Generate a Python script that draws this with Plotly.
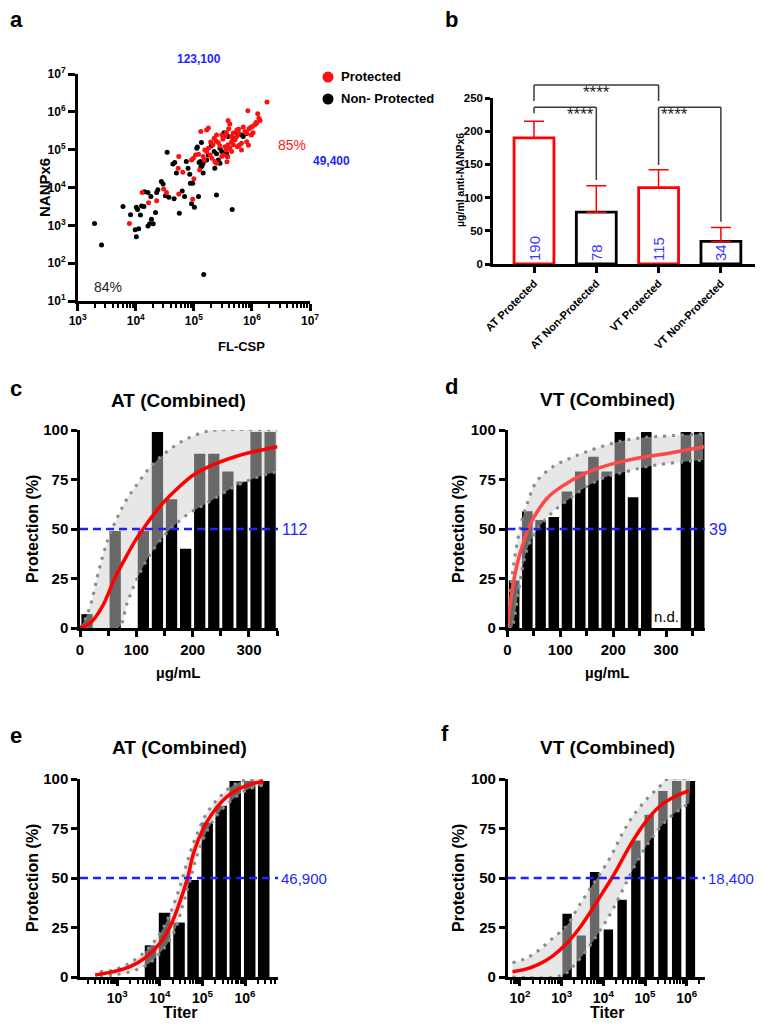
import numpy as np
import plotly.graph_objects as go

W, H = 763, 1031          # browser window
OFF = 8                   # default body margin of the page
WF, HF = W - 2 * OFF, H - 2 * OFF   # figure size so that the page fits the window exactly
FONT = "Arial, 'Liberation Sans', Helvetica, sans-serif"
BLUE = "#1f1fff"
LBLUE = "#3a3aff"
RED = "#ff0000"
GRAY_DOT = "#8a8a8a"
BAND = "rgba(208,208,208,0.5)"

# ---------------- Panel a : scatter (log10 exponents) ----------------
nonprot_fl_exp = [3.29, 3.41, 3.78, 3.91, 4.01, 4.03, 4.10, 4.14, 4.08, 3.99, 4.05, 4.01, 4.21, 4.24,
                  4.27, 4.30, 4.34, 4.15, 4.21, 4.26, 4.36, 4.38, 4.44, 4.47, 4.51, 4.57, 4.66, 4.75,
                  4.80, 4.84, 4.54, 4.64, 4.67, 4.70, 4.87, 4.90, 4.94, 4.98, 5.01, 5.06, 5.13, 5.09,
                  5.14, 5.16, 5.17, 5.52, 5.59, 5.82, 5.85, 5.05, 5.45, 5.48, 5.35, 5.39, 5.25, 5.22,
                  5.11, 5.16, 5.42, 5.45, 5.56, 5.58, 5.36, 5.12, 4.93, 5.08, 5.39, 5.91, 5.66, 5.68,
                  5.30, 5.75, 4.96]
nonprot_nanp_exp = [3.05, 2.48, 3.50, 3.28, 3.48, 3.42, 3.51, 3.50, 3.27, 2.88, 2.91, 2.70, 2.98, 3.04,
                    3.16, 3.04, 3.34, 3.89, 3.87, 3.76, 3.87, 3.94, 4.16, 4.09, 3.78, 3.74, 3.70, 3.32,
                    3.91, 3.76, 4.93, 4.62, 4.66, 4.38, 4.69, 4.51, 4.11, 4.11, 3.48, 5.07, 5.19, 4.66,
                    4.57, 4.38, 1.70, 5.45, 5.35, 5.39, 5.35, 5.04, 5.04, 4.95, 4.95, 4.89, 4.86, 4.73,
                    4.69, 4.64, 4.73, 4.64, 4.91, 4.82, 4.51, 4.54, 4.35, 3.76, 3.80, 5.43, 3.42, 5.30,
                    5.10, 5.45, 3.57]
prot_fl_exp = [3.89, 4.11, 4.22, 4.36, 4.48, 4.53, 4.74, 4.98, 4.74, 4.81, 4.96, 4.99, 5.00, 5.08,
               5.12, 5.10, 4.73, 6.26, 5.93, 6.10, 6.12, 6.14, 6.07, 6.01, 6.05, 5.95, 5.98, 5.88,
               5.91, 5.77, 5.59, 5.62, 5.74, 5.77, 5.74, 5.68, 5.65, 5.54, 5.56, 5.48, 5.50, 5.39,
               5.38, 5.22, 5.25, 5.29, 5.33, 5.42, 5.45, 5.54, 5.56, 5.59, 5.65, 5.68, 5.71, 5.62,
               5.65, 5.75, 5.82, 5.91, 5.19, 5.22, 5.25, 5.28, 5.31, 5.16, 5.18, 5.36, 5.39, 5.48,
               5.51, 5.03, 5.94, 6.08, 5.99, 5.82, 5.58, 5.57, 5.78, 5.35, 5.60, 5.85, 6.02]
prot_nanp_exp = [3.05, 3.87, 3.60, 3.65, 3.96, 3.87, 3.83, 3.69, 4.82, 4.40, 4.73, 4.77, 4.23, 4.88,
                 5.48, 4.46, 4.51, 6.26, 6.03, 5.95, 5.83, 5.77, 5.72, 5.61, 5.66, 5.55, 5.59, 5.48,
                 5.44, 5.54, 5.77, 5.68, 5.52, 5.44, 5.35, 5.44, 5.35, 5.36, 5.45, 5.39, 5.28, 5.39,
                 5.23, 5.52, 5.57, 5.20, 5.13, 5.19, 5.10, 5.08, 4.99, 5.13, 5.21, 5.13, 5.26, 5.04,
                 4.95, 5.08, 5.17, 5.21, 4.99, 4.95, 5.04, 4.86, 4.77, 4.82, 4.73, 4.69, 4.64, 4.82,
                 4.86, 4.86, 5.12, 5.70, 5.39, 4.99, 4.81, 4.68, 5.12, 5.30, 5.55, 5.60, 5.45]
fl_threshold = 123100
nanp_threshold = 49400
a_xticks = [1e3, 1e4, 1e5, 1e6, 1e7]
a_xtext = ["10<sup>3</sup>", "10<sup>4</sup>", "10<sup>5</sup>", "10<sup>6</sup>", "10<sup>7</sup>"]
a_yticks = [1e1, 1e2, 1e3, 1e4, 1e5, 1e6, 1e7]
a_ytext = ["10<sup>1</sup>", "10<sup>2</sup>", "10<sup>3</sup>", "10<sup>4</sup>", "10<sup>5</sup>",
           "10<sup>6</sup>", "10<sup>7</sup>"]

# ---------------- Panel b : bars ----------------
b_groups = ["AT Protected", "AT Non-Protected", "VT Protected", "VT Non-Protected"]
b_means = [190, 78, 115, 34]
b_err_up = [25, 40, 27, 21]
b_protected = [True, False, True, False]
b_pairs = [(0, 2), (0, 1), (2, 3)]
b_sig = ["****", "****", "****"]

# ---------------- Panel c : AT protection vs µg/mL ----------------
c_bar_conc = [12.5, 62.5, 112.5, 137.5, 162.5, 187.5, 212.5, 237.5, 262.5, 287.5, 312.5, 337.5]
c_bar_prot = [7, 49, 49, 99, 65, 40, 88, 88, 79, 74, 99, 99]
c_fit_conc = [0, 20, 40, 60, 80, 100, 112, 130, 150, 175, 200, 225, 250, 275, 300, 325, 350]
c_fit_prot = [0, 3, 11, 24, 35, 45, 50, 57, 64, 71, 77, 81, 84, 86.5, 88.5, 90, 91.5]
c_hi_conc = [0, 10, 20, 30, 40, 50, 60, 70, 85, 100, 124, 154, 189, 225, 243, 350]
c_hi_prot = [0, 5, 13, 25, 36, 45, 52, 58, 66, 72, 81, 89, 95.5, 99.3, 100, 100]
c_lo_conc = [0, 68, 83, 100, 124, 154, 189, 225, 272, 308, 350]
c_lo_prot = [0, 0, 12, 24, 37, 48, 57, 63, 71, 75.5, 79]
c_ec50 = 112

# ---------------- Panel d : VT protection vs µg/mL ----------------
d_bar_conc = [12.5, 37.5, 62.5, 87.5, 112.5, 137.5, 162.5, 187.5, 212.5, 237.5, 262.5, 337.5, 362.5]
d_bar_prot = [24, 59, 54.5, 56, 69, 79, 86.5, 79, 99, 66, 99, 99, 99]
d_nd_conc = 300
d_fit_conc = [0, 5, 10, 20, 30, 39, 50, 75, 100, 150, 200, 250, 300, 372]
d_fit_prot = [0, 12, 21, 34, 43, 50, 56, 65.5, 71, 78.5, 83, 86, 88, 91.5]
d_hi_conc = [0, 3, 8, 15, 25, 30, 37.5, 55, 86, 118, 149, 187, 225, 263, 301, 370]
d_hi_prot = [0, 12, 25, 38, 52, 57, 63, 74, 81.5, 85.7, 89, 92.4, 95, 96.3, 97, 98]
d_lo_conc = [0, 7.6, 10.7, 20, 30, 39, 55, 86, 118, 149, 187, 225, 263, 301, 370]
d_lo_prot = [0, 0, 2, 17, 32.5, 41, 49.4, 58.7, 65.4, 71.3, 76.4, 79, 81.5, 83, 84.8]
d_ec50 = 39

# ---------------- Panel e : AT protection vs titer ----------------
e_bar_titer = [6030, 12900, 28200, 60300, 129000, 275000, 589000, 1290000, 2750000]
e_bar_prot = [16, 32.5, 27.5, 49, 78, 86.5, 99, 99, 99]
e_fit_titer = [302, 813, 2000, 4900, 10000, 17400, 26900, 44700, 61700, 105000, 182000, 372000,
               759000, 1580000, 2690000]
e_fit_prot = [1.0, 2.7, 5.2, 10.3, 17, 25.4, 35.5, 50, 62.5, 75, 83.5, 91, 95.3, 97.8, 98.7]
e_hi_titer = [389, 813, 2000, 4900, 10000, 17400, 29500, 42700, 67600, 126000, 257000, 537000,
              1100000, 2690000]
e_hi_prot = [2.7, 3.5, 7.2, 13.6, 22, 32, 45.6, 57.4, 70, 82.7, 91, 97, 99.5, 100]
e_lo_titer = [389, 813, 2000, 4900, 10000, 20900, 35500, 51300, 79400, 138000, 257000, 537000,
              1100000, 2690000]
e_lo_prot = [0.5, 1, 2.7, 6, 12, 22, 37, 49, 63, 75, 83.5, 90, 94.4, 97]
e_ec50_label = "46,900"

# ---------------- Panel f : VT protection vs titer ----------------
f_bar_titer = [1350, 2950, 6170, 13200, 28200, 60300, 126000, 269000, 575000, 1230000]
f_bar_prot = [32, 21, 53, 24, 39, 69, 82, 94, 99, 99]
f_fit_titer = [66, 138, 288, 603, 1260, 2630, 5500, 9550, 16600, 28800, 50100, 105000, 219000,
               457000, 1150000]
f_fit_prot = [2.7, 4, 6.5, 10.5, 16.5, 24.5, 34.5, 42.5, 50.5, 59.5, 68.5, 78.5, 86, 90.5, 94.1]
f_hi_titer = [66, 138, 288, 603, 1260, 2400, 4570, 9550, 16600, 28800, 50100, 105000, 219000,
              347000, 1230000]
f_hi_prot = [7.2, 9.4, 13.6, 19.5, 25.4, 34.7, 44, 54, 62.5, 72.6, 81, 89.4, 96, 100, 100]
f_lo_titer = [66, 1050, 2190, 4570, 9550, 16600, 28800, 50100, 105000, 219000, 457000, 1150000]
f_lo_prot = [0, 1, 6.9, 15.3, 25.4, 33.8, 43.8, 54, 65.8, 75, 81.8, 87.7]
f_ec50_label = "18,400"

prot_ticks = [0, 25, 50, 75, 100]


# ---------------- helpers (window pixel -> paper fraction) ----------------
def fx(p):
    return min(max((p - OFF) / WF, 0.0), 1.0)


def fy(p):
    return min(max(1 - (p - OFF) / HF, 0.0), 1.0)


def xdom(p0, p1):
    return [fx(p0), fx(p1)]


def ydom(ptop, pbot):
    return [fy(pbot), fy(ptop)]


def tf(size, bold=True, color="black"):
    return dict(family=FONT, size=size, color=color, weight="bold" if bold else "normal")


def axis(**kw):
    base = dict(showline=True, linecolor="black", linewidth=2.5, ticks="outside", ticklen=6,
                tickwidth=2.5, tickcolor="black", showgrid=False, zeroline=False,
                tickfont=tf(15), fixedrange=True, automargin=False)
    base.update(kw)
    return base


def log_minor(lo_exp, hi_exp):
    vals = []
    for e in range(int(np.floor(lo_exp)), int(np.ceil(hi_exp)) + 1):
        for k in range(2, 10):
            v = k * 10.0 ** e
            if 10 ** lo_exp <= v <= 10 ** hi_exp:
                vals.append(v)
    return vals


fig = go.Figure()
annotations = []
shapes = []


def text(px, py, s, size, bold=True, color="black", angle=0, xanchor="center", yanchor="middle"):
    annotations.append(dict(x=fx(px), y=fy(py), xref="paper", yref="paper", text=s,
                            showarrow=False, textangle=angle, xanchor=xanchor, yanchor=yanchor,
                            font=tf(size, bold, color)))


# ================= Panel a =================
fig.add_trace(go.Scatter(x=10 ** np.array(nonprot_fl_exp), y=10 ** np.array(nonprot_nanp_exp),
                         mode="markers", marker=dict(color="black", size=5), xaxis="x", yaxis="y",
                         showlegend=False))
fig.add_trace(go.Scatter(x=10 ** np.array(prot_fl_exp), y=10 ** np.array(prot_nanp_exp),
                         mode="markers", marker=dict(color="#ff1010", size=5), xaxis="x", yaxis="y",
                         showlegend=False))
shapes.append(dict(type="line", xref="x", yref="y domain", x0=np.log10(fl_threshold),
                   x1=np.log10(fl_threshold), y0=0, y1=1, layer="below",
                   line=dict(color=BLUE, width=2, dash="2px,3px")))
shapes.append(dict(type="line", xref="x domain", yref="y", x0=0, x1=1,
                   y0=np.log10(nanp_threshold), y1=np.log10(nanp_threshold), layer="below",
                   line=dict(color=BLUE, width=2, dash="2px,3px")))
annotations.append(dict(x=np.log10(fl_threshold), xref="x", y=1, yref="y domain", yanchor="bottom",
                        yshift=6, text=f"{fl_threshold:,}", showarrow=False, font=tf(12, True, BLUE)))
annotations.append(dict(x=1, xref="x domain", xanchor="left", xshift=1, y=np.log10(nanp_threshold),
                        yref="y", text=f"{nanp_threshold:,}", showarrow=False, font=tf(12, True, BLUE)))
text(108, 287, "84%", 14, False, "#222222")
text(292, 145, "85%", 14, False, "#ff2020")
# legend
for py, col, lab in [(77, "#ff1010", "Protected"), (99, "black", "Non- Protected")]:
    shapes.append(dict(type="circle", xref="paper", yref="paper", xsizemode="pixel",
                       ysizemode="pixel", xanchor=fx(328), yanchor=fy(py), x0=-5.5, x1=5.5,
                       y0=-5.5, y1=5.5, fillcolor=col, line=dict(width=0)))
    text(339, py, lab, 13, True, "black", xanchor="left")
text(241, 347, "FL-CSP", 13)
text(44, 188, "NANPx6", 15, angle=-90)
text(16, 19, "a", 22)

# ================= Panel b =================
b_x = list(range(len(b_groups)))
fig.add_trace(go.Bar(x=b_x, y=b_means, width=0.64, xaxis="x2", yaxis="y2", showlegend=False,
                     marker=dict(color="white",
                                 line=dict(color=[RED if p else "black" for p in b_protected],
                                           width=2.8)),
                     error_y=dict(type="data", symmetric=False, array=b_err_up,
                                  arrayminus=[0] * len(b_means), color=RED, thickness=1.5,
                                  width=10),
                     text=[str(v) for v in b_means], textposition="inside",
                     insidetextanchor="start", textangle=-90, constraintext="none",
                     textfont=dict(family=FONT, size=15, color=LBLUE)))
# category axis: first category at x=534 px, spacing 62.3 px, axis from 493 px to figure edge
b_left_px, b_right_px, b_c0_px, b_step_px = 493, W - OFF, 534, 62.3
b_xr = [(b_left_px - b_c0_px) / b_step_px, (b_right_px - b_c0_px) / b_step_px]
b_yr = [0, 250]


def bxd(i):
    return (i - b_xr[0]) / (b_xr[1] - b_xr[0])


def byd(v):
    return (v - b_yr[0]) / (b_yr[1] - b_yr[0])


bracket_geom = [(269.5, 245.5, 245.5, 276), (236, 227, 126.5, 243), (236, 149, 63.7, 243)]
for (i0, i1), lab, (ytop, yl0, yl1, ytxt) in zip(b_pairs, b_sig, bracket_geom):
    for (xa, ya, xb, yb) in [(i0, yl0, i0, ytop), (i0, ytop, i1, ytop), (i1, ytop, i1, yl1)]:
        shapes.append(dict(type="line", xref="x2 domain", yref="y2 domain", x0=bxd(xa), x1=bxd(xb),
                           y0=byd(ya), y1=byd(yb), line=dict(color="#3a3a3a", width=1.5)))
    annotations.append(dict(x=bxd((i0 + i1) / 2), xref="x2 domain", y=byd(ytxt), yref="y2 domain",
                            text=lab, showarrow=False, font=tf(17, False, "#222222")))
text(460, 180, "µg/ml anti-NANPx6", 10.5, angle=-90)
text(452, 19, "b", 22)


# ================= Panels c, d =================
def conc_panel(xa, ya, bx, by, fxv, fyv, hx, hy, lx, ly, ec50, curve_col):
    fig.add_trace(go.Bar(x=bx, y=by, width=20, marker=dict(color="black", line=dict(width=0)),
                         xaxis=xa, yaxis=ya, showlegend=False))
    fig.add_trace(go.Scatter(x=lx, y=ly, mode="lines", line=dict(color=GRAY_DOT, width=3,
                                                                dash="3px,6px", shape="spline"),
                             xaxis=xa, yaxis=ya, showlegend=False))
    fig.add_trace(go.Scatter(x=hx, y=hy, mode="lines", fill="tonexty", fillcolor=BAND,
                             line=dict(color=GRAY_DOT, width=3, dash="3px,6px", shape="spline"),
                             xaxis=xa, yaxis=ya, showlegend=False))
    fig.add_trace(go.Scatter(x=fxv, y=fyv, mode="lines", line=dict(color=curve_col, width=3.5,
                                                                  shape="spline"),
                             xaxis=xa, yaxis=ya, showlegend=False))
    shapes.append(dict(type="line", xref=xa + " domain", yref=ya, x0=0, x1=1, y0=50, y1=50,
                       line=dict(color=BLUE, width=2.5, dash="8px,5px")))
    annotations.append(dict(x=1, xref=xa + " domain", xanchor="left", xshift=2, y=50, yref=ya,
                            text=str(ec50), showarrow=False, font=tf(16, False, BLUE)))


conc_panel("x3", "y3", c_bar_conc, c_bar_prot, c_fit_conc, c_fit_prot, c_hi_conc, c_hi_prot,
           c_lo_conc, c_lo_prot, c_ec50, "#ff0000")
conc_panel("x4", "y4", d_bar_conc, d_bar_prot, d_fit_conc, d_fit_prot, d_hi_conc, d_hi_prot,
           d_lo_conc, d_lo_prot, d_ec50, "#ff4848")
annotations.append(dict(x=d_nd_conc, xref="x4", y=0, yref="y4", yanchor="bottom", yshift=1,
                        text="n.d.", showarrow=False, font=tf(15, False, "black")))


# ================= Panels e, f =================
def titer_panel(xbar, xlog, ya, bt, bp, bw, ft, fp, ht, hp, lt, lp, lab):
    fig.add_trace(go.Bar(x=np.log10(bt), y=bp, width=bw,
                         marker=dict(color="black", line=dict(width=0)),
                         xaxis=xbar, yaxis=ya, showlegend=False))
    fig.add_trace(go.Scatter(x=lt, y=lp, mode="lines", line=dict(color=GRAY_DOT, width=3,
                                                                dash="3px,6px", shape="spline"),
                             xaxis=xlog, yaxis=ya, showlegend=False))
    fig.add_trace(go.Scatter(x=ht, y=hp, mode="lines", fill="tonexty", fillcolor=BAND,
                             line=dict(color=GRAY_DOT, width=3, dash="3px,6px", shape="spline"),
                             xaxis=xlog, yaxis=ya, showlegend=False))
    fig.add_trace(go.Scatter(x=ft, y=fp, mode="lines", line=dict(color="#ff0000", width=3.5,
                                                                shape="spline"),
                             xaxis=xlog, yaxis=ya, showlegend=False))
    shapes.append(dict(type="line", xref=xbar + " domain", yref=ya, x0=0, x1=1, y0=50, y1=50,
                       line=dict(color=BLUE, width=2.5, dash="8px,5px")))
    annotations.append(dict(x=1, xref=xbar + " domain", xanchor="left", xshift=1, y=50, yref=ya,
                            text=lab, showarrow=False, font=tf(15, False, BLUE)))


titer_panel("x5", "x7", "y5", e_bar_titer, e_bar_prot, 0.27, e_fit_titer, e_fit_prot,
            e_hi_titer, e_hi_prot, e_lo_titer, e_lo_prot, e_ec50_label)
titer_panel("x6", "x8", "y6", f_bar_titer, f_bar_prot, 0.225, f_fit_titer, f_fit_prot,
            f_hi_titer, f_hi_prot, f_lo_titer, f_lo_prot, f_ec50_label)

# titles / labels c-f
text(178, 400, "AT (Combined)", 19)
text(607, 399, "VT (Combined)", 19)
text(179, 747, "AT (Combined)", 19)
text(607, 747, "VT (Combined)", 19)
for px, py in [(32, 529), (458, 529), (32, 878), (458, 878)]:
    text(px, py, "Protection (%)", 16, angle=-90)
text(178, 672, "µg/mL", 15)
text(607, 672, "µg/mL", 15)
text(180, 1012, "Titer", 16)
text(607, 1012, "Titer", 16)
text(16, 388, "c", 22)
text(452, 387, "d", 22)
text(16, 735, "e", 22)
text(445, 733, "f", 22)

e_rng = [2.124, 6.775]
f_rng = [1.705, 6.44]
e_major = [1e3, 1e4, 1e5, 1e6]
f_major = [1e2, 1e3, 1e4, 1e5, 1e6]

fig.update_layout(
    width=WF, height=HF, margin=dict(l=0, r=0, t=0, b=0, autoexpand=False),
    paper_bgcolor="white", plot_bgcolor="rgba(0,0,0,0)", showlegend=False,
    font=dict(family=FONT),
    xaxis=axis(type="log", domain=xdom(77.7, 310), range=[3, 7], anchor="y",
               tickvals=a_xticks, ticktext=a_xtext, tickfont=tf(12), ticklen=7,
               minor=dict(tickvals=log_minor(3, 7), ticks="outside", ticklen=4, tickwidth=2,
                          tickcolor="black")),
    yaxis=axis(type="log", domain=ydom(74, 301), range=[1, 7], anchor="x",
               tickvals=a_yticks, ticktext=a_ytext, tickfont=tf(12), ticklen=7),
    xaxis2=axis(domain=xdom(b_left_px, b_right_px), range=b_xr, anchor="y2", tickvals=b_x,
                ticktext=b_groups, tickangle=-45, tickfont=tf(11)),
    yaxis2=axis(domain=ydom(98, 264), range=b_yr, anchor="x2", tickvals=[0, 50, 100, 150, 200, 250],
                tickfont=tf(11.5), ticklen=5),
    xaxis3=axis(domain=xdom(80, 278), range=[0, 351.5], anchor="y3", tickvals=[0, 100, 200, 300],
                minor=dict(tick0=0, dtick=50, ticks="outside", ticklen=5, tickwidth=2.5,
                           tickcolor="black")),
    yaxis3=axis(domain=ydom(430, 628), range=[0, 100], anchor="x3", tickvals=prot_ticks),
    xaxis4=axis(domain=xdom(507.5, 705), range=[0, 373.5], anchor="y4", tickvals=[0, 100, 200, 300],
                minor=dict(tick0=0, dtick=50, ticks="outside", ticklen=5, tickwidth=2.5,
                           tickcolor="black")),
    yaxis4=axis(domain=ydom(430, 628), range=[0, 100], anchor="x4", tickvals=prot_ticks),
    xaxis5=axis(domain=xdom(80, 278), range=e_rng, anchor="y5", visible=False),
    yaxis5=axis(domain=ydom(779, 977), range=[0, 100], anchor="x5", tickvals=prot_ticks),
    xaxis7=axis(type="log", range=e_rng, overlaying="x5", anchor="y5", tickvals=e_major,
                ticktext=["10<sup>%d</sup>" % int(np.log10(v)) for v in e_major], tickfont=tf(14),
                minor=dict(tickvals=log_minor(*e_rng), ticks="outside", ticklen=4, tickwidth=2,
                           tickcolor="black")),
    xaxis6=axis(domain=xdom(507.7, 705), range=f_rng, anchor="y6", visible=False),
    yaxis6=axis(domain=ydom(779, 977), range=[0, 100], anchor="x6", tickvals=prot_ticks),
    xaxis8=axis(type="log", range=f_rng, overlaying="x6", anchor="y6", tickvals=f_major,
                ticktext=["10<sup>%d</sup>" % int(np.log10(v)) for v in f_major], tickfont=tf(14),
                minor=dict(tickvals=log_minor(*f_rng), ticks="outside", ticklen=4, tickwidth=2,
                           tickcolor="black")),
    annotations=annotations,
    shapes=shapes,
)

fig.write_html("out.html", config={"displayModeBar": False})
